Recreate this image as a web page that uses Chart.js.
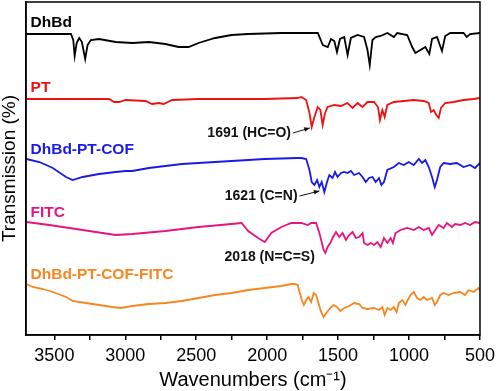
<!DOCTYPE html>
<html>
<head>
<meta charset="utf-8">
<script src="https://cdn.jsdelivr.net/npm/chart.js@4.4.1/dist/chart.umd.min.js"></script>
<style>
  html, body { margin: 0; padding: 0; background: #fff; }
  #wrap { width: 500px; height: 391px; }
</style>
</head>
<body>
<div id="wrap"><canvas id="ftirChart" width="500" height="391"></canvas></div>
<script>
// wavenumbers (cm-1) and offset transmission
const dhbdWn = [3698, 3383, 3367, 3357, 3343, 3325, 3306, 3283, 3266, 3243, 3185, 3068, 2951, 2834, 2718, 2624, 2554, 2484, 2367, 2251, 2134, 1900, 1643, 1608, 1573, 1550, 1527, 1508, 1487, 1457, 1433, 1410, 1363, 1317, 1293, 1277, 1258, 1235, 1200, 1153, 1107, 1083, 1013, 978, 955, 920, 885, 857, 838, 803, 768, 745, 710, 616, 593, 570, 499];
const dhbdT = [301, 301, 295, 279, 292, 297, 293, 276, 290, 295, 296, 293, 292, 293, 291, 288, 288, 292, 297, 300, 301, 302, 302, 290, 288, 296, 294, 283, 296, 298, 280, 297, 300, 298, 285, 270, 295, 298, 299, 302, 298, 302, 300, 288, 282, 285, 288, 281, 296, 298, 284, 299, 302, 302, 298, 301, 302];

const ptWn = [3698, 3114, 3079, 3044, 2998, 2858, 2811, 2764, 2729, 2671, 2484, 2017, 1784, 1760, 1725, 1702, 1686, 1667, 1644, 1625, 1609, 1592, 1574, 1527, 1480, 1434, 1398, 1363, 1328, 1293, 1247, 1219, 1205, 1188, 1172, 1153, 1107, 1037, 967, 897, 861, 845, 826, 808, 791, 775, 745, 686, 616, 546, 500];
const ptT = [236, 236, 233, 233, 235, 234, 231, 232, 231, 235, 236, 236, 237, 238, 235, 222, 208, 218, 228, 225, 210, 222, 228, 230, 229, 232, 227, 232, 228, 233, 233, 228, 215, 225, 218, 230, 233, 234, 235, 234, 232, 223, 225, 220, 217, 227, 232, 233, 235, 236, 237];

const cofWn = [3698, 3605, 3511, 3418, 3371, 3301, 3185, 3068, 2998, 2951, 2834, 2718, 2601, 2484, 2251, 2017, 1784, 1760, 1725, 1702, 1686, 1667, 1648, 1632, 1616, 1597, 1578, 1562, 1539, 1522, 1504, 1480, 1457, 1434, 1410, 1387, 1352, 1328, 1305, 1282, 1258, 1235, 1212, 1195, 1177, 1153, 1107, 1072, 1037, 1002, 967, 931, 908, 885, 861, 838, 819, 803, 780, 756, 710, 663, 616, 570, 535, 500];
const cofT = [176, 173, 167, 158, 155, 158, 161, 163, 164, 164, 167, 169, 171, 172, 174, 176, 177, 177, 176, 165, 153, 150, 155, 148, 153, 143, 153, 160, 157, 163, 158, 162, 163, 162, 164, 160, 162, 158, 153, 157, 158, 153, 157, 150, 153, 165, 168, 172, 170, 173, 170, 176, 172, 175, 168, 158, 148, 155, 168, 172, 171, 172, 168, 170, 167, 172];

const fitcWn = [3698, 3535, 3301, 3068, 2951, 2718, 2484, 2251, 2180, 2134, 2064, 2017, 1971, 1900, 1830, 1760, 1714, 1690, 1655, 1632, 1616, 1602, 1590, 1574, 1555, 1539, 1515, 1492, 1469, 1445, 1422, 1398, 1375, 1352, 1328, 1317, 1293, 1270, 1247, 1223, 1200, 1177, 1153, 1130, 1114, 1095, 1060, 1013, 967, 931, 897, 861, 838, 815, 791, 756, 733, 698, 675, 640, 605, 570, 535, 500];
const fitcT = [113, 110, 105, 100, 101, 104, 108, 111, 112, 104, 97, 93, 102, 108, 112, 112, 110, 112, 112, 102, 93, 85, 82, 88, 92, 97, 103, 98, 102, 95, 100, 103, 97, 98, 102, 92, 90, 92, 90, 93, 88, 97, 92, 97, 92, 102, 105, 107, 105, 108, 105, 107, 100, 105, 110, 107, 112, 108, 111, 110, 112, 110, 113, 112];

const cofFitcWn = [3698, 3652, 3581, 3511, 3418, 3371, 3278, 3185, 3091, 3033, 2951, 2834, 2718, 2601, 2484, 2367, 2251, 2134, 2017, 1900, 1830, 1807, 1784, 1772, 1756, 1742, 1725, 1709, 1690, 1672, 1655, 1639, 1620, 1602, 1578, 1555, 1532, 1508, 1485, 1457, 1422, 1387, 1352, 1328, 1293, 1247, 1212, 1188, 1172, 1153, 1130, 1107, 1088, 1072, 1048, 1025, 1009, 990, 967, 943, 920, 897, 873, 838, 819, 803, 780, 756, 721, 686, 640, 605, 581, 546, 511, 500];
const cofFitcT = [51, 48, 46, 43, 38, 34, 32, 30, 28, 27, 29, 31, 32, 34, 37, 40, 42, 45, 47, 49, 51, 51, 50, 43, 35, 30, 35, 38, 33, 42, 40, 32, 23, 18, 23, 27, 30, 28, 24, 27, 29, 32, 31, 27, 26, 27, 25, 28, 20, 27, 25, 28, 23, 32, 35, 30, 35, 40, 43, 37, 35, 38, 35, 37, 30, 33, 40, 42, 40, 42, 43, 40, 45, 43, 47, 45];

const xTicks = [3500, 3250, 3000, 2750, 2500, 2250, 2000, 1750, 1500, 1250, 1000, 750, 500];
const xLabels = [3500, 3000, 2500, 2000, 1500, 1000, 500];

const seriesNames = ['DhBd', 'PT', 'DhBd-PT-COF', 'FITC', 'DhBd-PT-COF-FITC'];
const seriesColors = ['#000000', '#ee1111', '#1a1ae6', '#e8147c', '#f7861e'];
const seriesWn = [dhbdWn, ptWn, cofWn, fitcWn, cofFitcWn];
const seriesT = [dhbdT, ptT, cofT, fitcT, cofFitcT];
// label anchors (wavenumber, transmission)
const labelPos = [[3668, 312], [3668, 247], [3668, 185], [3668, 122], [3668, 60]];

const FONT = 'Arial, "Liberation Sans", sans-serif';

const peakNotes = [
  { text: '1691 (HC=O)', at: [1832, 202], tip: [1700, 207] },
  { text: '1621 (C=N)', at: [1786, 139], tip: [1632, 144] },
  { text: '2018 (N=C=S)', at: [1664, 78], tip: null }
];

const textPlugin = {
  id: 'ftirText',
  afterDatasetsDraw(chart) {
    const { ctx, chartArea, scales: { x, y } } = chart;
    ctx.save();
    // frame
    ctx.strokeStyle = '#000';
    ctx.lineWidth = 1.5;
    ctx.strokeRect(chartArea.left, chartArea.top, chartArea.right - chartArea.left, chartArea.bottom - chartArea.top);

    // series names
    ctx.font = 'bold 15.5px ' + FONT;
    ctx.textBaseline = 'middle';
    ctx.textAlign = 'left';
    seriesNames.forEach((name, i) => {
      ctx.fillStyle = seriesColors[i];
      ctx.fillText(name, x.getPixelForValue(labelPos[i][0]), y.getPixelForValue(labelPos[i][1]));
    });

    // peak notes
    ctx.font = 'bold 14px ' + FONT;
    ctx.fillStyle = '#111';
    ctx.strokeStyle = '#111';
    ctx.lineWidth = 1;
    peakNotes.forEach(n => {
      const px = x.getPixelForValue(n.at[0]);
      const py = y.getPixelForValue(n.at[1]);
      ctx.textAlign = 'right';
      ctx.fillText(n.text, px, py);
      if (n.tip) {
        const tx = x.getPixelForValue(n.tip[0]);
        const ty = y.getPixelForValue(n.tip[1]);
        const sx = px + 2, sy = py;
        ctx.beginPath();
        ctx.moveTo(sx, sy);
        ctx.lineTo(tx, ty);
        ctx.stroke();
        const ang = Math.atan2(ty - sy, tx - sx);
        ctx.beginPath();
        ctx.moveTo(tx, ty);
        ctx.lineTo(tx - 6 * Math.cos(ang - 0.4), ty - 6 * Math.sin(ang - 0.4));
        ctx.lineTo(tx - 6 * Math.cos(ang + 0.4), ty - 6 * Math.sin(ang + 0.4));
        ctx.closePath();
        ctx.fill();
      }
    });
    ctx.restore();
  }
};

const ctx = document.getElementById('ftirChart').getContext('2d');

const ftirChart = new Chart(ctx, {
  type: 'line',
  data: {
    datasets: seriesNames.map((name, i) => ({
      label: name,
      data: seriesWn[i].map((w, j) => ({ x: w, y: seriesT[i][j] })),
      borderColor: seriesColors[i],
      borderWidth: 1.8,
      pointRadius: 0,
      tension: 0,
      fill: false
    }))
  },
  options: {
    responsive: false,
    animation: false,
    layout: { padding: { top: 2, right: 16, left: 0, bottom: 0 } },
    plugins: {
      legend: { display: false },
      tooltip: { enabled: false }
    },
    scales: {
      x: {
        type: 'linear',
        reverse: true,
        min: 500,
        max: 3700,
        afterBuildTicks: scale => { scale.ticks = xTicks.map(v => ({ value: v })); },
        afterFit: scale => { scale.height = 56; },
        ticks: {
          autoSkip: false,
          maxRotation: 0,
          padding: 5,
          color: '#000',
          font: { family: FONT, size: 18 },
          callback: v => xLabels.includes(v) ? String(v) : ''
        },
        grid: { drawOnChartArea: false, drawTicks: true, tickLength: 5, color: '#000', lineWidth: 1.5 },
        border: { display: true, color: '#000', width: 1.5 },
        title: {
          display: true,
          text: 'Wavenumbers (cm\u207B\u00B9)',
          color: '#000',
          font: { family: FONT, size: 20, lineHeight: 1.1 },
          padding: { top: 0, bottom: 0 }
        }
      },
      y: {
        min: 0,
        max: 333,
        afterFit: scale => { scale.width = 26; },
        ticks: { display: false },
        grid: { display: false },
        border: { display: true, color: '#000', width: 1.5 },
        title: {
          display: true,
          text: 'Transmission (%)',
          color: '#000',
          font: { family: FONT, size: 19, lineHeight: 1 },
          padding: { top: 0, bottom: 0 }
        }
      }
    }
  },
  plugins: [textPlugin]
});
</script>
</body>
</html>
